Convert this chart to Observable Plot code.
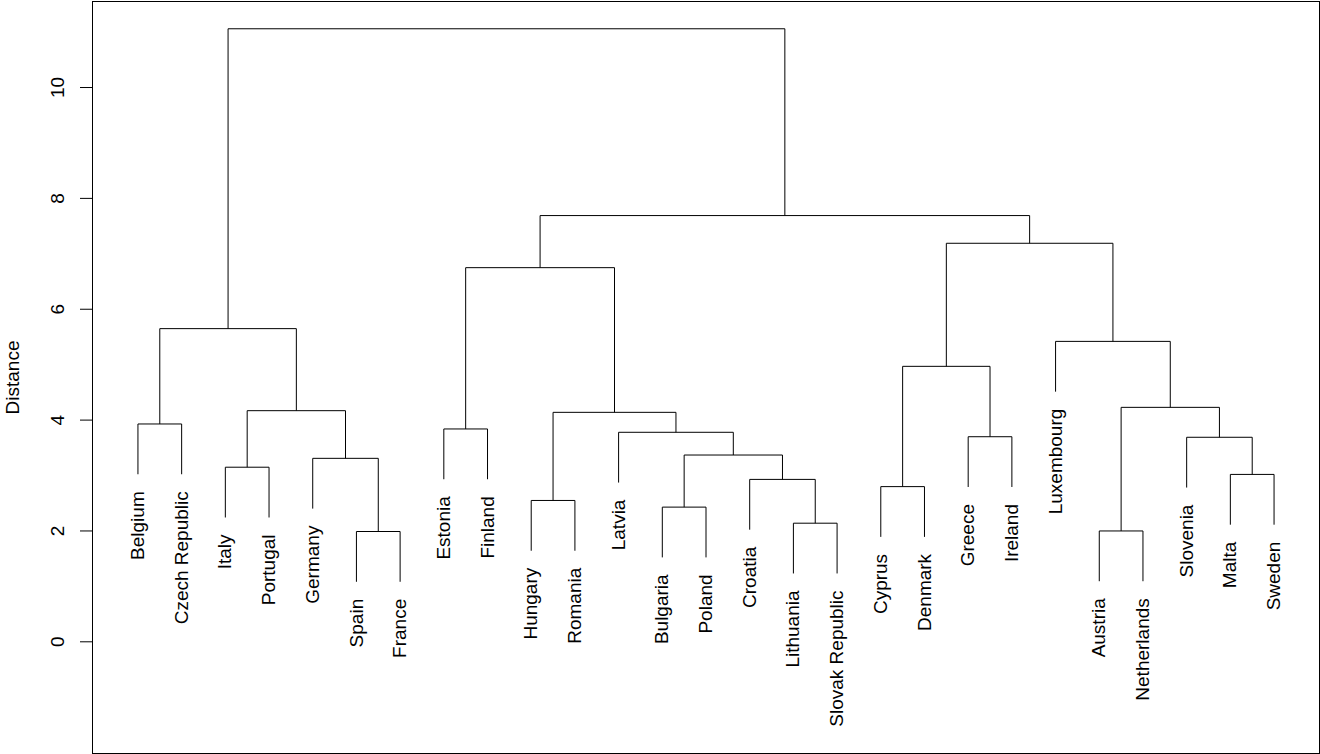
<!DOCTYPE html>
<html>
<head>
<meta charset="utf-8">
<script src="https://cdn.jsdelivr.net/npm/d3@7"></script>
<script src="https://cdn.jsdelivr.net/npm/@observablehq/plot@0.6"></script>
<style>
  html, body { margin: 0; padding: 0; background: white; }
  #chart svg { display: block; }
</style>
</head>
<body>
<div id="chart"></div>
<script>
// Leaf labels in dendrogram order
const labels = ["Belgium","Czech Republic","Italy","Portugal","Germany","Spain","France",
  "Estonia","Finland","Hungary","Romania","Latvia","Bulgaria","Poland","Croatia",
  "Lithuania","Slovak Republic","Cyprus","Denmark","Greece","Ireland","Luxembourg",
  "Austria","Netherlands","Slovenia","Malta","Sweden"];

// R-style merge matrix: negative = leaf (1-based index in labels), positive = earlier merge step
const mergeA = [-6, -23, -16, -13, -10, -18, -15, -26, -3, -5, 4, -25, -20, -12, -8, -1, 5, 9, 2, 6, -22, 16, 15, 20, 23, 22];
const mergeB = [-7, -24, -17, -14, -11, -19, 3, -27, -4, 1, 7, 8, -21, 11, -9, -2, 14, 10, 12, 13, 19, 18, 17, 21, 24, 25];
const mergeHeight = [1.99, 2.00, 2.14, 2.43, 2.55, 2.80, 2.93, 3.02, 3.15, 3.31, 3.37, 3.69, 3.70, 3.78, 3.84, 3.93,
  4.14, 4.17, 4.23, 4.97, 5.42, 5.65, 6.75, 7.19, 7.69, 11.06];

const yTicks = [0, 2, 4, 6, 8, 10];
const yLabel = "Distance";

// hang = 0.1 of the height range (R plot.hclust default)
const hang = 0.1 * (d3.max(mergeHeight) - d3.min(mergeHeight));
const nodeX = [], nodeY = [];
const segs = [];
const leaves = [];
function pos(ref, h) {
  if (ref < 0) {
    const i = -ref;
    leaves.push({x: i, y: h - hang, label: labels[i - 1]});
    return {x: i, y: h - hang};
  }
  return {x: nodeX[ref - 1], y: nodeY[ref - 1]};
}
mergeA.forEach((a, i) => {
  const h = mergeHeight[i];
  const A = pos(a, h), B = pos(mergeB[i], h);
  segs.push({x1: A.x, y1: A.y, x2: A.x, y2: h});
  segs.push({x1: A.x, y1: h, x2: B.x, y2: h});
  segs.push({x1: B.x, y1: B.y, x2: B.x, y2: h});
  nodeX.push((A.x + B.x) / 2);
  nodeY.push(h);
});

const font = "'Liberation Sans', Arial, Helvetica, sans-serif";

const chart = Plot.plot({
  width: 1320,
  height: 754,
  marginLeft: 92,
  marginRight: 1,
  marginTop: 1,
  marginBottom: 1,
  x: {domain: [-0.04, labels.length + 1.04], axis: null},
  y: {domain: [-2.015, 11.552], axis: null, label: null},
  style: {fontFamily: font, fontSize: "19px", background: "white", color: "black"},
  marks: [
    Plot.frame({stroke: "black", strokeWidth: 1}),
    Plot.axisY({ticks: yTicks, tickSize: 12, tickFormat: () => "", label: null, stroke: "black"}),
    Plot.text(yTicks, {y: d => d, text: d => String(d), frameAnchor: "left", dx: -35, rotate: -90,
      textAnchor: "middle", fontSize: 19, fill: "black"}),
    Plot.text([yLabel], {frameAnchor: "left", text: d => d, dx: -80, rotate: -90,
      textAnchor: "middle", fontSize: 19, fill: "black"}),
    Plot.link(segs, {x1: "x1", y1: "y1", x2: "x2", y2: "y2", stroke: "black", strokeWidth: 1}),
    Plot.text(leaves, {x: "x", y: "y", text: "label", rotate: -90, textAnchor: "end", dy: 17,
      fontSize: 19, fill: "black"})
  ]
});
document.getElementById("chart").appendChild(chart);
</script>
</body>
</html>
